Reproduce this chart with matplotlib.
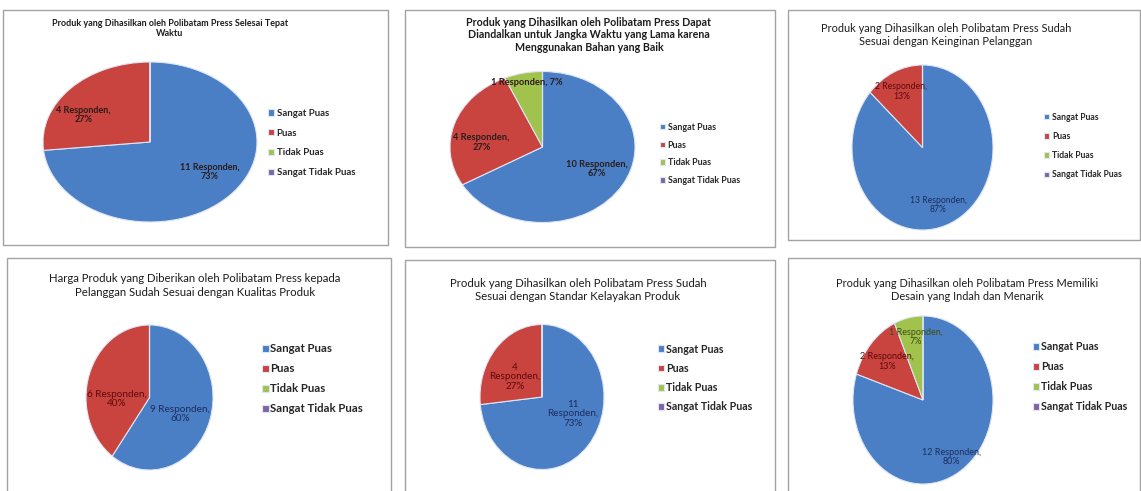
import matplotlib
matplotlib.use("Agg")
import matplotlib.pyplot as plt
from matplotlib.patches import Rectangle

plt.rcParams['font.family'] = ['Lato', 'DejaVu Sans']

# ---------------- data ----------------
categories = ["Sangat Puas", "Puas", "Tidak Puas", "Sangat Tidak Puas"]

titles = [
    "Produk yang Dihasilkan oleh Polibatam Press Selesai Tepat\nWaktu",
    "Produk yang Dihasilkan oleh Polibatam Press Dapat\nDiandalkan untuk Jangka Waktu yang Lama karena\nMenggunakan Bahan yang Baik",
    "Produk yang Dihasilkan oleh Polibatam Press Sudah\nSesuai dengan Keinginan Pelanggan",
    "Harga Produk yang Diberikan oleh Polibatam Press kepada\nPelanggan Sudah Sesuai dengan Kualitas Produk",
    "Produk yang Dihasilkan oleh Polibatam Press Sudah\nSesuai dengan Standar Kelayakan Produk",
    "Produk yang Dihasilkan oleh Polibatam Press Memiliki\nDesain yang Indah dan Menarik",
]

responses_p1 = [11, 4, 0, 0]
responses_p2 = [10, 4, 1, 0]
responses_p3 = [13, 2, 0, 0]
responses_p4 = [9, 6, 0, 0]
responses_p5 = [11, 4, 0, 0]
responses_p6 = [12, 2, 1, 0]
responses = [responses_p1, responses_p2, responses_p3,
             responses_p4, responses_p5, responses_p6]

colors = ["#4A7EC5", "#C9433F", "#A2C24E", "#8064A2"]
label_dark = ["#1E2D5E", "#5E0B0B", "#3C4C12", "#3A2A55"]

# ---------------- layout (pixels) ----------------
W, H = 1141, 491
STD = "{n} Responden,\n{p}%"
layout = [
    dict(box=(3, 10, 388, 245), pie=(150, 142, 107, 80),
         title=(170, 28.5, 237, 'bold', 1.15),
         legend=(268, 143, 19.7, 78, 0.3),
         lab_w=(55, 'bold', "4 Responden,"),
         lab_pos={0: (0.56, -0.375), 1: (-0.62, 0.34)},
         lab_fmt={}, dark=False),
    dict(box=(405, 10, 775, 247), pie=(542.5, 147, 92.5, 75.5),
         title=(589, 35, 244, 'bold', 1.12),
         legend=(660, 154, 17.8, 72, 0.25),
         lab_w=(56, 'bold', "4 Responden,"),
         lab_pos={0: (0.59, -0.29), 1: (-0.66, 0.06), 2: (-0.17, 0.855)},
         lab_fmt={2: "{n} Responden, {p}%"}, dark=False),
    dict(box=(788, 10, 1140, 240), pie=(922.5, 147.5, 70.5, 82.5),
         title=(946, 35, 250, 'normal', 1.3),
         legend=(1044, 146, 19.3, 70, 0.3),
         lab_w=(52, 'normal', "2 Responden,"),
         lab_pos={0: (0.22, -0.70), 1: (-0.30, 0.68)},
         lab_fmt={}, dark=True),
    dict(box=(7, 258, 391, 495), pie=(149.5, 397.5, 63.5, 72.5),
         title=(195, 285.5, 292, 'normal', 1.3),
         legend=(262, 379, 20, 92, 0.12),
         lab_w=(60, 'normal', "6 Responden,"),
         lab_pos={0: (0.48, -0.23), 1: (-0.51, -0.02)},
         lab_fmt={}, dark=True),
    dict(box=(405, 260, 775, 495), pie=(542, 397, 62, 72.5),
         title=(578, 290, 258, 'normal', 1.3),
         legend=(658, 378, 19.3, 86, 0.12),
         lab_w=(51, 'normal', "Responden,"),
         lab_pos={0: (0.50, -0.23), 1: (-0.44, 0.28)},
         lab_fmt={0: "{n}\nResponden,\n{p}%", 1: "{n}\nResponden,\n{p}%"},
         dark=True),
    dict(box=(788, 258, 1140, 495), pie=(923, 400, 70, 84),
         title=(967, 290, 260, 'normal', 1.3),
         legend=(1033, 377, 20, 86, 0.12),
         lab_w=(54, 'normal', "2 Responden,"),
         lab_pos={0: (0.41, -0.68), 1: (-0.51, 0.46), 2: (-0.10, 0.75)},
         lab_fmt={}, dark=True),
]

fig = plt.figure(figsize=(W / 100, H / 100), dpi=100)
fig.patch.set_facecolor("white")
renderer = fig.canvas.get_renderer()


def fx(x):
    return x / W


def fy(y):
    return 1 - y / H


def fit_fs(text, target, weight):
    t = fig.text(0, 0, text, fontsize=10, fontweight=weight)
    w = t.get_window_extent(renderer).width
    t.remove()
    return 10 * target / w


for vals, title, L in zip(responses, titles, layout):
    # panel border
    x0, y0, x1, y1 = L['box']
    fig.patches.append(Rectangle((fx(x0), fy(y1)), fx(x1) - fx(x0), fy(y0) - fy(y1),
                                 transform=fig.transFigure, fill=False,
                                 edgecolor="#A3A3A3", linewidth=1.0))

    # pie
    cx, cy, rx, ry = L['pie']
    ax = fig.add_axes([fx(cx - rx), fy(cy + ry), 2 * rx / W, 2 * ry / H])
    wedges, _ = ax.pie(vals, colors=colors, startangle=90, counterclock=False,
                       radius=1.0,
                       wedgeprops=dict(edgecolor="#DCE6F4", linewidth=0.8))
    ax.set_aspect('auto')
    ax.set_xlim(-1, 1)
    ax.set_ylim(-1, 1)
    ax.axis('off')

    # data labels
    total = sum(vals)
    lw_target, lweight, lref = L['lab_w']
    lfs = fit_fs(lref, lw_target, lweight)
    for i, v in enumerate(vals):
        if v == 0:
            continue
        p = round(100 * v / total)
        fmt = L['lab_fmt'].get(i, STD)
        px_, py_ = L['lab_pos'][i]
        col = label_dark[i] if L['dark'] else "#2A1C1C"
        ax.text(px_, py_, fmt.format(n=v, p=p), ha='center', va='center',
                fontsize=lfs, fontweight=lweight, color=col, linespacing=1.05)

    # title
    tx, ty, tw, tweight, tls = L['title']
    first = title.split("\n")[0]
    tfs = fit_fs(first, tw, tweight)
    fig.text(fx(tx), fy(ty), title, ha='center', va='center', fontsize=tfs,
             fontweight=tweight, color="#1C1C1C", linespacing=tls,
             multialignment='center')

    # legend
    lx, lcy, pitch, legw, hpad = L['legend']
    gfs = fit_fs("Sangat Tidak Puas", legw, 'bold')
    fs_px = gfs * 100 / 72

    def make_leg(ls):
        return fig.legend(wedges, categories, loc='center left',
                          bbox_to_anchor=(fx(lx), fy(lcy)),
                          frameon=False, prop={'size': gfs, 'weight': 'bold'},
                          handlelength=0.6, handleheight=0.6,
                          handletextpad=hpad, borderpad=0, borderaxespad=0,
                          labelspacing=ls, labelcolor="#262626")

    ls0 = 0.8
    leg = make_leg(ls0)
    fig.canvas.draw()
    ys = [t.get_window_extent(renderer).y0 for t in leg.get_texts()]
    p0 = (ys[0] - ys[-1]) / 3.0
    hrow = p0 - ls0 * fs_px
    ls1 = max(0.05, (pitch - hrow) / fs_px)
    leg.remove()
    make_leg(ls1)

fig.savefig("out.png", dpi=100, facecolor="white")
